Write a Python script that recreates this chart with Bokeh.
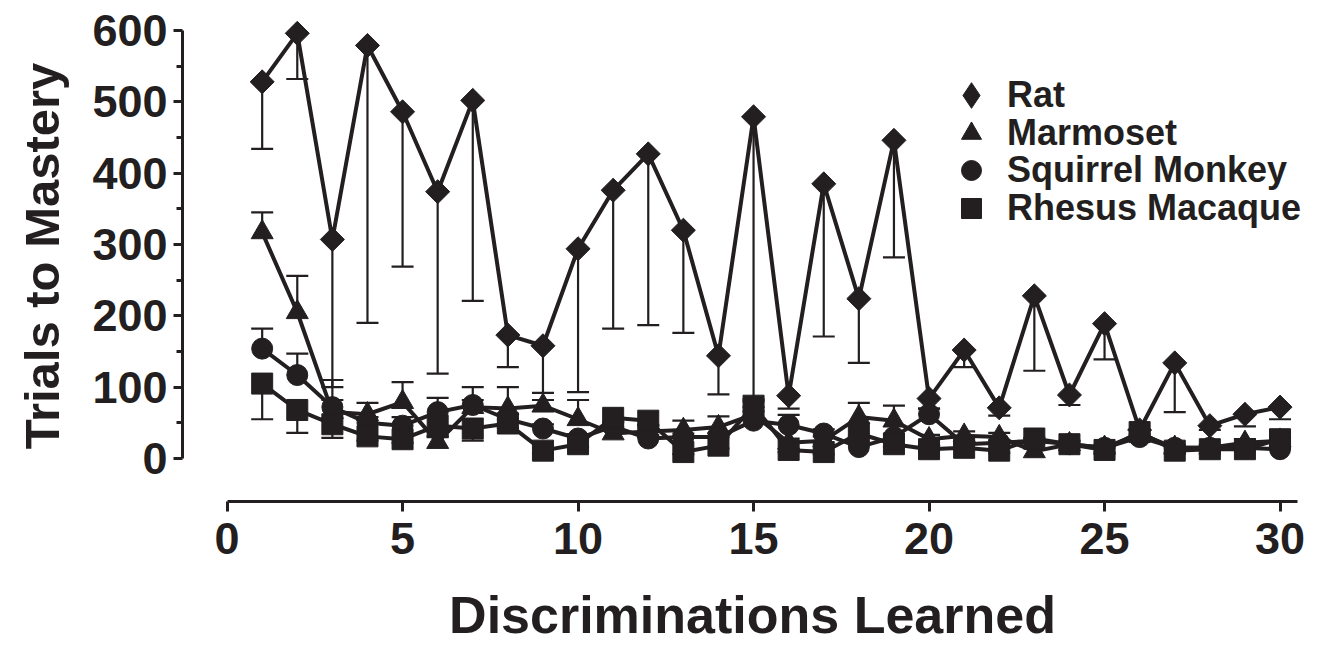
import math
from bokeh.plotting import figure
from bokeh.models import (ColumnDataSource, FixedTicker, Whisker, TeeHead, Legend,
                          LegendItem, Range1d)
from bokeh.embed import file_html
from bokeh.resources import INLINE

discriminations = list(range(1, 31))

rat_mean = [528, 596, 307, 579, 486, 374, 502, 173, 158, 294, 376, 427, 320, 144, 479,
            88, 385, 224, 446, 84, 152, 71, 228, 89, 189, 40, 134, 46, 62, 72]
rat_sem = [94, 64, 207, 389, 217, 255, 281, 45, 66, 201, 194, 240, 144, 54, 399,
           18, 214, 90, 164, 14, 24, 11, 105, 14, 50, 10, 69, 6, 17, 17]

marmoset_mean = [317, 205, 65, 62, 79, 23, 72, 70, 74, 55, 35, 38, 40, 44, 62,
                 22, 25, 58, 53, 27, 32, 30, 10, 20, 15, 35, 15, 15, 22, 25]
marmoset_sem = [28, 51, 45, 16, 28, 8, 10, 30, 8, 27, 8, 8, 13, 15, 10,
                6, 6, 20, 21, 6, 6, 6, 4, 5, 4, 6, 4, 4, 5, 5]

squirrel_mean = [154, 117, 72, 50, 46, 65, 75, 55, 42, 28, 45, 28, 30, 30, 53,
                 47, 35, 16, 30, 62, 20, 22, 25, 20, 15, 30, 15, 15, 15, 13]
squirrel_sem = [28, 30, 10, 8, 12, 20, 25, 8, 6, 6, 6, 5, 5, 5, 30,
                14, 6, 4, 5, 8, 4, 4, 4, 4, 3, 5, 3, 3, 3, 3]

rhesus_mean = [105, 68, 48, 31, 27, 46, 42, 49, 11, 20, 57, 53, 9, 18, 74,
               12, 9, 35, 20, 13, 15, 11, 28, 20, 12, 37, 11, 13, 13, 27]
rhesus_sem = [50, 32, 19, 6, 5, 16, 17, 6, 4, 4, 6, 6, 3, 4, 8,
              3, 3, 5, 4, 3, 3, 3, 4, 4, 3, 5, 3, 3, 3, 4]

y_ticks = [0, 100, 200, 300, 400, 500, 600]
y_minor = [50, 150, 250, 350, 450, 550]
x_ticks = [0, 5, 10, 15, 20, 25, 30]

INK = "#231f20"
FONT = "Liberation Sans"

p = figure(width=1328, height=646, x_range=Range1d(-1.27, 31.21), y_range=Range1d(-60.3, 628),
           output_backend="svg", toolbar_location=None,
           min_border_left=182, min_border_right=6, min_border_top=10, min_border_bottom=145)
p.outline_line_color = None
p.xgrid.visible = False
p.ygrid.visible = False
p.background_fill_color = "white"
p.border_fill_color = "white"

# series: (name, mean, sem, marker, size, angle, error direction)
series = [
    ("Rat", rat_mean, rat_sem, "square", 17, math.pi / 4, "down"),
    ("Marmoset", marmoset_mean, marmoset_sem, "triangle", 22, 0, "up"),
    ("Squirrel Monkey", squirrel_mean, squirrel_sem, "circle", 21, 0, "up"),
    ("Rhesus Macaque", rhesus_mean, rhesus_sem, "square", 21, 0, "down"),
]

sources = []
for name, mean, sem, marker, size, angle, direction in series:
    if direction == "up":
        lo = list(mean)
        hi = [m + s for m, s in zip(mean, sem)]
    else:
        lo = [m - s for m, s in zip(mean, sem)]
        hi = list(mean)
    src = ColumnDataSource(dict(x=discriminations, y=mean, lo=lo, hi=hi))
    sources.append(src)
    head = TeeHead(size=22, line_width=2.2, line_color=INK)
    w = Whisker(base="x", lower="lo", upper="hi", source=src, dimension="height",
                line_color=INK, line_width=2.2,
                upper_head=head if direction == "up" else None,
                lower_head=head if direction == "down" else None)
    p.add_layout(w)

for src in sources:
    p.line("x", "y", source=src, line_color=INK, line_width=4)

scatter_renderers = []
for (name, mean, sem, marker, size, angle, direction), src in zip(series, sources):
    r = p.scatter("x", "y", source=src, marker=marker, size=size, angle=angle,
                  fill_color=INK, line_color=INK, line_width=1)
    scatter_renderers.append(r)

# hidden diamond renderer used only as the rat's legend key (legend keys are not rotated)
rat_key = p.scatter("x", "y", source=sources[0], marker="diamond", size=10,
                    fill_color=INK, line_color=INK, visible=False)
legend_renderers = [rat_key] + scatter_renderers[1:]

# axes
ya = p.yaxis[0]
ya.ticker = FixedTicker(ticks=y_ticks, minor_ticks=y_minor)
ya.bounds = (0, 600)
xa = p.xaxis[0]
xa.ticker = FixedTicker(ticks=x_ticks, minor_ticks=[])
xa.bounds = (0, 30.5)
for ax in (xa, ya):
    ax.axis_line_color = INK
    ax.axis_line_width = 3
    ax.major_tick_line_color = INK
    ax.major_tick_line_width = 3
    ax.minor_tick_line_color = INK
    ax.minor_tick_line_width = 3
    ax.major_tick_in = 0
    ax.minor_tick_in = 0
    ax.major_label_text_font = FONT
    ax.major_label_text_font_style = "bold"
    ax.major_label_text_font_size = "45px"
    ax.major_label_text_color = INK
    ax.axis_label_text_font = FONT
    ax.axis_label_text_font_style = "bold"
    ax.axis_label_text_color = INK
ya.major_tick_out = 9
ya.minor_tick_out = 6
ya.major_label_standoff = 6
ya.axis_label = "Trials to Mastery"
ya.axis_label_text_font_size = "49px"
ya.axis_label_standoff = 20
xa.major_tick_out = 10
xa.minor_tick_out = 0
xa.major_label_standoff = 11
xa.axis_label = "Discriminations Learned"
xa.axis_label_text_font_size = "52px"
xa.axis_label_standoff = 29

# one legend per entry so rows can sit closer than the glyph box height
row_centers = [95, 133, 170, 208]   # screen px from top
frame_left, frame_bottom = 182, 501
marker_cx, text_x = 971, 1007
for (name, *_), rend, cy in zip(series, legend_renderers, row_centers):
    g = 64 if name == "Rat" else 50
    lx = marker_cx - frame_left - g // 2
    ly = frame_bottom - cy - g // 2
    lg = Legend(items=[LegendItem(label=name, renderers=[rend])], location=(lx, ly),
                glyph_width=g, glyph_height=g, padding=0, margin=0,
                label_standoff=text_x - (frame_left + lx + g),
                label_text_font=FONT, label_text_font_style="bold",
                label_text_font_size="36px", label_text_color=INK,
                border_line_color=None, background_fill_alpha=0,
                inactive_fill_alpha=0, click_policy="none")
    p.add_layout(lg)

open("out.html", "w").write(file_html(p, INLINE))
